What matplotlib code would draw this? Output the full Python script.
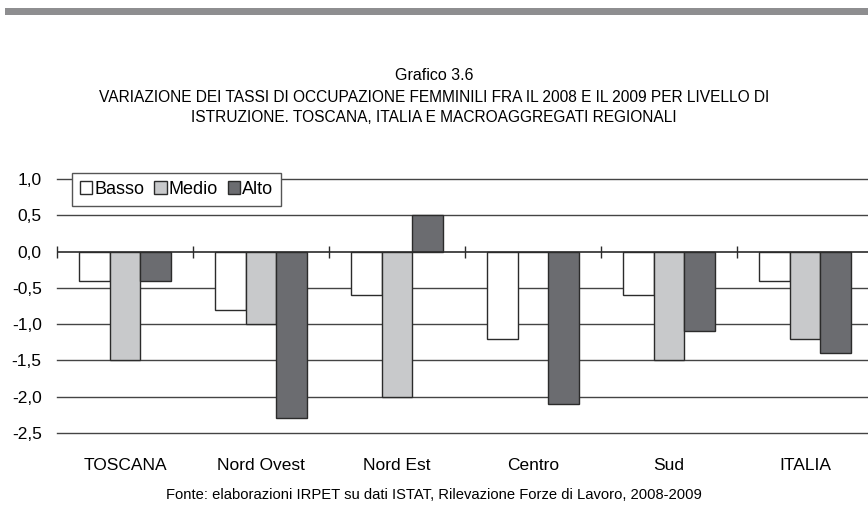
import numpy as np
import matplotlib
matplotlib.use('Agg')
import matplotlib.pyplot as plt
import matplotlib.transforms as mtrans
from matplotlib.patches import Rectangle

plt.rcParams['font.family'] = ['Liberation Sans Narrow', 'Liberation Sans', 'DejaVu Sans']

categorie = ['TOSCANA', 'Nord Ovest', 'Nord Est', 'Centro', 'Sud', 'ITALIA']
basso = [-0.4, -0.8, -0.6, -1.2, -0.6, -0.4]
medio = [-1.5, -1.0, -2.0, 0.0, -1.5, -1.2]
alto = [-0.4, -2.3, 0.5, -2.1, -1.1, -1.4]
serie = ['Basso', 'Medio', 'Alto']
colori = ['#ffffff', '#c8c9cb', '#6b6c70']
y_ticks = [1.0, 0.5, 0.0, -0.5, -1.0, -1.5, -2.0, -2.5]
y_labels = ['1,0', '0,5', '0,0', '-0,5', '-1,0', '-1,5', '-2,0', '-2,5']

fig = plt.figure(figsize=(8.68, 5.30), dpi=100)

# barra grigia in alto
fig.add_artist(Rectangle((5/868, 1-15/530), 1, 7/530, transform=fig.transFigure,
                         color='#8e8e90', lw=0))

fig.text(0.5, 1-76/530, 'Grafico 3.6', ha='center', va='center', fontsize=11.5)
fig.text(0.5, 1-98/530, 'VARIAZIONE DEI TASSI DI OCCUPAZIONE FEMMINILI FRA IL 2008 E IL 2009 PER LIVELLO DI',
         ha='center', va='center', fontsize=11.2)
fig.text(0.5, 1-118/530, 'ISTRUZIONE. TOSCANA, ITALIA E MACROAGGREGATI REGIONALI',
         ha='center', va='center', fontsize=11.2)

ax = fig.add_axes([57/868, 1-433/530, 1-57/868, 254/530])
x = np.arange(len(categorie))
w = 0.225
for i, (vals, c, lab) in enumerate(zip([basso, medio, alto], colori, serie)):
    ax.bar(x + (i-1)*w, vals, w, color=c, edgecolor='#2b2b2b', linewidth=1, label=lab, zorder=3)

ax.set_ylim(-2.5, 1.0)
ax.set_xlim(-0.5, -0.5 + 811/136)
for yv in y_ticks:
    if yv != 0:
        ax.axhline(yv, color='#444444', lw=1, zorder=1, clip_on=False)
ax.axhline(0, color='#2b2b2b', lw=1.2, zorder=4)

ax.set_yticks(y_ticks)
ax.set_yticklabels(y_labels, fontsize=12.5)
ax.tick_params(axis='y', length=0, pad=11)

# tacche di separazione sulla linea dello zero
bordi = np.arange(len(categorie)) - 0.5
ax.set_xticks(bordi)
ax.set_xticklabels([])
ax.tick_params(axis='x', direction='inout', length=9, width=1, color='#2b2b2b')
ax.spines['bottom'].set_position(('data', 0))
for s in ['top', 'right', 'left', 'bottom']:
    ax.spines[s].set_visible(False)

tr = mtrans.blended_transform_factory(ax.transData, fig.transFigure)
for xi, nome in zip(x, categorie):
    ax.text(xi, 1-466/530, nome, transform=tr, ha='center', va='center', fontsize=12.5)

leg = ax.legend(loc='upper left', bbox_to_anchor=(0.018, 1.024), ncol=3, fancybox=False,
                edgecolor='#555555', framealpha=1, fontsize=13, handlelength=0.7,
                handleheight=0.7, handletextpad=0.1, columnspacing=0.55, borderpad=0.45,
                borderaxespad=0)
leg.get_frame().set_linewidth(1)
leg.set_zorder(5)

fig.text(0.5, 1-495/530, 'Fonte: elaborazioni IRPET su dati ISTAT, Rilevazione Forze di Lavoro, 2008-2009',
         ha='center', va='center', fontsize=10.6)

fig.savefig('out.png', dpi=100)
